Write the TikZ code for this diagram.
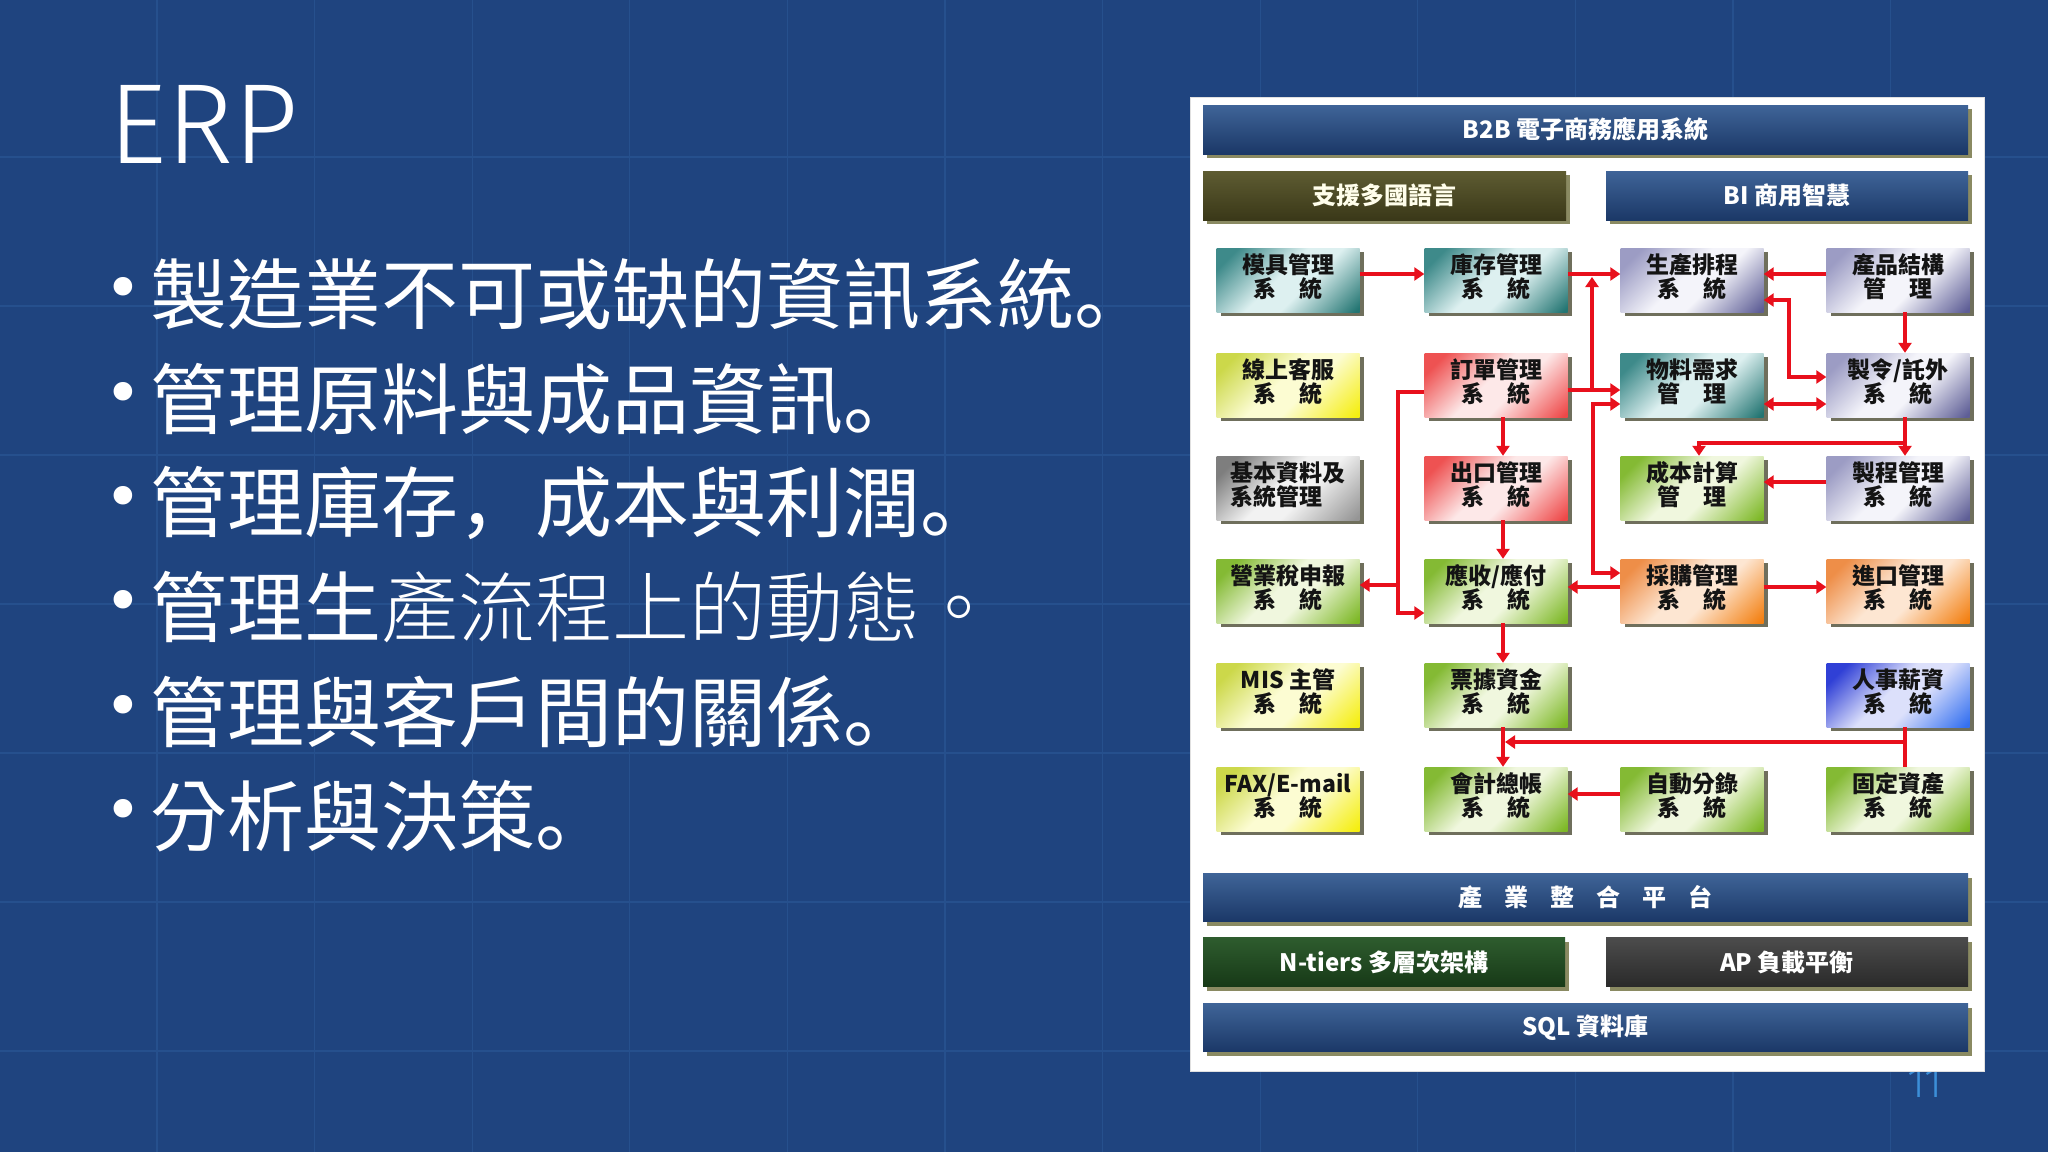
\documentclass[tikz,border=0pt]{standalone}
\usepackage{fontspec}
\usetikzlibrary{shadows,arrows.meta,calc}
\setmainfont{Noto Sans CJK TC}
\newfontfamily\tcf{Noto Sans CJK TC}
\newfontfamily\scf{Noto Sans CJK SC}
\newfontfamily\dvf{DejaVu Sans}
\IfFontExistsTF{Fira Sans Light}{\newfontfamily\thinf{Fira Sans Light}}{\newfontfamily\thinf{Lato}}
\IfFontExistsTF{Noto Sans CJK TC Light}{\newfontfamily\tclight{Noto Sans CJK TC Light}}{\newfontfamily\tclight{Noto Sans CJK TC}}

\newcommand{\bt}[2]{\raisebox{-17pt}[0pt][0pt]{\vbox{\baselineskip=24pt\lineskiplimit=-50pt\lineskip=0pt\halign{\hfil##\hfil\cr#1\cr#2\cr}}}}
\newcommand{\btl}[2]{\raisebox{-17pt}[0pt][0pt]{\vbox{\baselineskip=24pt\lineskiplimit=-50pt\lineskip=0pt\halign{##\hfil\cr#1\cr#2\cr}}}}

\definecolor{bg}{HTML}{1F447F}
\definecolor{gridc}{HTML}{26508D}
\definecolor{pgnum}{HTML}{3C8FD8}
\definecolor{redc}{HTML}{E8101C}
\definecolor{boxsh}{HTML}{6F6F5C}
\definecolor{barsh}{HTML}{8A8A62}
% box gradients
\definecolor{teA}{HTML}{3E8A8A}\definecolor{teB}{HTML}{DDF0F0}\definecolor{teC}{HTML}{237572}
\definecolor{laA}{HTML}{9C9CC4}\definecolor{laB}{HTML}{F4F4FA}\definecolor{laC}{HTML}{5E5E96}
\definecolor{yeA}{HTML}{CCD84A}\definecolor{yeB}{HTML}{FCFCD2}\definecolor{yeC}{HTML}{F5EE10}
\definecolor{piA}{HTML}{EE5252}\definecolor{piB}{HTML}{FDE8E8}\definecolor{piC}{HTML}{EE4848}
\definecolor{grA}{HTML}{7E7E7E}\definecolor{grB}{HTML}{F2F2F2}\definecolor{grC}{HTML}{959595}
\definecolor{gnA}{HTML}{84BA34}\definecolor{gnB}{HTML}{F0F7DE}\definecolor{gnC}{HTML}{7DB826}
\definecolor{orA}{HTML}{EE8E48}\definecolor{orB}{HTML}{FDE6D2}\definecolor{orC}{HTML}{F38012}
\definecolor{blA}{HTML}{3040D6}\definecolor{blB}{HTML}{DCE0FB}\definecolor{blC}{HTML}{3470F0}
% bar gradients
\definecolor{bbA}{HTML}{3F6498}\definecolor{bbB}{HTML}{5E83B2}\definecolor{bbC}{HTML}{1B3867}
\definecolor{olA}{HTML}{5E5C32}\definecolor{olB}{HTML}{7C7A52}\definecolor{olC}{HTML}{3A3818}
\definecolor{dgA}{HTML}{2E5C2E}\definecolor{dgB}{HTML}{426F42}\definecolor{dgC}{HTML}{173917}
\definecolor{agA}{HTML}{4C4C4C}\definecolor{agB}{HTML}{6C6C6C}\definecolor{agC}{HTML}{2A2A2A}

\pgfdeclarehorizontalshading{teS}{100bp}{color(0bp)=(teA); color(22bp)=(teA); color(46bp)=(teB); color(58bp)=(teB); color(84bp)=(teC); color(100bp)=(teC)}
\pgfdeclarehorizontalshading{laS}{100bp}{color(0bp)=(laA); color(22bp)=(laA); color(46bp)=(laB); color(58bp)=(laB); color(84bp)=(laC); color(100bp)=(laC)}
\pgfdeclarehorizontalshading{yeS}{100bp}{color(0bp)=(yeA); color(22bp)=(yeA); color(46bp)=(yeB); color(58bp)=(yeB); color(84bp)=(yeC); color(100bp)=(yeC)}
\pgfdeclarehorizontalshading{piS}{100bp}{color(0bp)=(piA); color(22bp)=(piA); color(46bp)=(piB); color(58bp)=(piB); color(84bp)=(piC); color(100bp)=(piC)}
\pgfdeclarehorizontalshading{grS}{100bp}{color(0bp)=(grA); color(22bp)=(grA); color(46bp)=(grB); color(58bp)=(grB); color(84bp)=(grC); color(100bp)=(grC)}
\pgfdeclarehorizontalshading{gnS}{100bp}{color(0bp)=(gnA); color(22bp)=(gnA); color(46bp)=(gnB); color(58bp)=(gnB); color(84bp)=(gnC); color(100bp)=(gnC)}
\pgfdeclarehorizontalshading{orS}{100bp}{color(0bp)=(orA); color(22bp)=(orA); color(46bp)=(orB); color(58bp)=(orB); color(84bp)=(orC); color(100bp)=(orC)}
\pgfdeclarehorizontalshading{blS}{100bp}{color(0bp)=(blA); color(22bp)=(blA); color(46bp)=(blB); color(58bp)=(blB); color(84bp)=(blC); color(100bp)=(blC)}

\begin{document}
\begin{tikzpicture}[x=1pt,y=-1pt,
  bx/.style={inner sep=0pt, minimum width=143pt, minimum height=64pt,
    text=black!92, font=\tcf\bfseries\fontsize{23}{23}\selectfont,
    drop shadow={shadow xshift=4pt, shadow yshift=-4pt, opacity=1, fill=boxsh}},
  teal box/.style={bx, shade, shading=teS, shading angle=-45},
  lav box/.style={bx, shade, shading=laS, shading angle=-45},
  yel box/.style={bx, shade, shading=yeS, shading angle=-45},
  pink box/.style={bx, shade, shading=piS, shading angle=-45},
  gray box/.style={bx, shade, shading=grS, shading angle=-45},
  grn box/.style={bx, shade, shading=gnS, shading angle=-45},
  org box/.style={bx, shade, shading=orS, shading angle=-45},
  blu box/.style={bx, shade, shading=blS, shading angle=-45},
  bar/.style={inner sep=0pt, minimum height=49pt, text=white,
    font=\tcf\bfseries\fontsize{24}{24}\selectfont,
    drop shadow={shadow xshift=4pt, shadow yshift=-4pt, opacity=1, fill=barsh}},
  blue bar/.style={bar, top color=bbA, middle color=bbB, bottom color=bbC},
  olive bar/.style={bar, top color=olA, middle color=olB, bottom color=olC, text=white!92!yellow},
  green bar/.style={bar, top color=dgA, middle color=dgB, bottom color=dgC},
  grey bar/.style={bar, top color=agA, middle color=agB, bottom color=agC},
  arr/.style={draw=redc, line width=4pt, -{Triangle[length=10pt,width=13pt]}},
  arrb/.style={draw=redc, line width=4pt, {Triangle[length=10pt,width=13pt]}-{Triangle[length=10pt,width=13pt]}},
  lnk/.style={draw=redc, line width=4pt},
  bline/.style={anchor=west, inner sep=0pt, text=white, font=\tcf\fontsize{77}{77}\selectfont},
  bdot/.style={inner sep=0pt, text=white, font=\dvf\fontsize{64}{64}\selectfont}
]
\useasboundingbox (0,0) rectangle (2048,1152);
\fill[bg] (0,0) rectangle (2048,1152);
\foreach \i in {0,...,12} \draw[gridc, line width=1.2pt] ({157+157.6*\i},0) -- ++(0,1152);
\foreach \j in {0,...,6} \draw[gridc, line width=1.2pt] (0,{157+149*\j}) -- ++(2048,0);

% title
\node[anchor=base west, inner sep=0pt, text=white, font=\thinf\fontsize{114}{114}\selectfont] (title) at (108,163) {ERP};

% bullets
\node[bdot] (d1) at (123,294) {•};
\node[bline] (l1) at (150,294) {製造業不可或缺的資訊系統{\scf 。}};
\node[bdot] (d2) at (123,399) {•};
\node[bline] (l2) at (150,399) {管理原料與成品資訊{\scf 。}};
\node[bdot] (d3) at (123,503) {•};
\node[bline] (l3) at (150,503) {管理庫存{\scf ，}成本與利潤{\scf 。}};
\node[bdot] (d4) at (123,607) {•};
\node[bline] (l4) at (150,607) {管理生{\tclight 產流程上的動態。}};
\node[bdot] (d5) at (123,712) {•};
\node[bline] (l5) at (150,712) {管理與客戶間的關係{\scf 。}};
\node[bdot] (d6) at (123,816) {•};
\node[bline] (l6) at (150,816) {分析與決策{\scf 。}};

% page number (partly under the panel)
\node[anchor=base, inner sep=0pt, text=pgnum, font=\thinf\fontsize{44}{44}\selectfont] (pg) at (1925,1097) {11};

% panel
\node[anchor=north west, inner sep=0pt, minimum width=794pt, minimum height=974pt, fill=white, draw=black!12] (panel) at (1190,97) {};

% top bars
\node[blue bar, minimum width=765pt] (b2b) at (1585.5,129.5) {B2B 電子商務應用系統};
\node[olive bar, minimum width=363pt] (lang) at (1384.5,195.5) {支援多國語言};
\node[blue bar, minimum width=362pt] (bi) at (1787,195.5) {BI 商用智慧};

% boxes
\node[teal box] (mj) at (1288,280) {\bt{模具管理}{系　統}};
\node[teal box] (kc) at (1496,280) {\bt{庫存管理}{系　統}};
\node[lav box]  (sc) at (1692,280) {\bt{生產排程}{系　統}};
\node[lav box]  (cp) at (1898,280) {\bt{產品結構}{管　理}};

\node[yel box]  (kf) at (1288,385) {\bt{線上客服}{系　統}};
\node[pink box] (dd) at (1496,385) {\bt{訂單管理}{系　統}};
\node[teal box] (wl) at (1692,385) {\bt{物料需求}{管　理}};
\node[lav box]  (zl) at (1898,385) {\bt{製令/託外}{系　統}};

\node[gray box] (jb) at (1288,488) {\btl{基本資料及}{系統管理}};
\node[pink box] (ck) at (1496,488) {\bt{出口管理}{系　統}};
\node[grn box]  (cb) at (1692,488) {\bt{成本計算}{管　理}};
\node[lav box]  (zc) at (1898,488) {\bt{製程管理}{系　統}};

\node[grn box]  (yy) at (1288,591) {\bt{營業稅申報}{系　統}};
\node[grn box]  (ys) at (1496,591) {\bt{應收/應付}{系　統}};
\node[org box]  (cg) at (1692,591) {\bt{採購管理}{系　統}};
\node[org box]  (jk) at (1898,591) {\bt{進口管理}{系　統}};

\node[yel box]  (mis) at (1288,695) {\bt{MIS 主管}{系　統}};
\node[grn box]  (pj) at (1496,695) {\bt{票據資金}{系　統}};
\node[blu box]  (rs) at (1898,695) {\bt{人事薪資}{系　統}};

\node[yel box]  (fax) at (1288,799) {\bt{FAX/E-mail}{系　統}};
\node[grn box]  (kj) at (1496,799) {\bt{會計總帳}{系　統}};
\node[grn box]  (zd) at (1692,799) {\bt{自動分錄}{系　統}};
\node[grn box]  (gd) at (1898,799) {\bt{固定資產}{系　統}};

% bottom bars
\node[blue bar, minimum width=765pt, minimum height=48pt] (cy) at (1585.5,897.5) {產\hspace{22pt}業\hspace{22pt}整\hspace{22pt}合\hspace{22pt}平\hspace{22pt}台};
\node[green bar, minimum width=362pt] (nt) at (1384,962) {N-tiers 多層次架構};
\node[grey bar, minimum width=362pt] (ap) at (1787,962) {AP 負載平衡};
\node[blue bar, minimum width=765pt, minimum height=48pt] (sql) at (1585.5,1027.5) {SQL 資料庫};

% junction coordinates
\coordinate (j1) at (1592,390);
\coordinate (j1t) at (1592,277);
\coordinate (j2) at (1905,443);
\coordinate (j3) at (1398,585);
\coordinate (j4) at (1905,742);
\coordinate (j4e) at (1505,742);

% connectors
\draw[arr] ([yshift=6pt]mj.east) -- ([yshift=6pt]kc.west);
\draw[arr] ([yshift=6pt]kc.east) -- ([yshift=6pt]sc.west);
\draw[arr] ([yshift=6pt]cp.west) -- ([yshift=6pt]sc.east);
\draw[arrb] ([yshift=-20pt]sc.east) -- ++(25,0) |- ([yshift=8pt]zl.west);
\draw[arr] ([xshift=7pt]cp.south) -- ([xshift=7pt]zl.north);
\draw[arr] ([yshift=-5pt]dd.east) -- ([yshift=-5pt]wl.west);
\draw[arr] (j1) -- (j1t);
\draw[arrb] ([yshift=-19pt]wl.west) -- ++(-27,0) |- ([yshift=18pt]cg.west);
\draw[arrb] ([yshift=-19pt]wl.east) -- ([yshift=-19pt]zl.west);
\draw[arr] ([xshift=7pt]zl.south) -- ([xshift=7pt]zc.north);
\draw[arr] (j2) -| ([xshift=7pt]cb.north);
\draw[arr] ([yshift=6pt]zc.west) -- ([yshift=6pt]cb.east);
\draw[arr] ([xshift=7pt]dd.south) -- ([xshift=7pt]ck.north);
\draw[arr] ([xshift=7pt]ck.south) -- ([xshift=7pt]ys.north);
\draw[arr] ([yshift=-7pt]dd.west) -- ++(-26,0) |- ([yshift=-22pt]ys.west);
\draw[arr] (j3) -- ([yshift=6pt]yy.east);
\draw[arr] ([yshift=4pt]cg.west) -- ([yshift=4pt]ys.east);
\draw[arr] ([yshift=4pt]cg.east) -- ([yshift=4pt]jk.west);
\draw[arr] ([xshift=7pt]ys.south) -- ([xshift=7pt]pj.north);
\draw[lnk] ([xshift=7pt]rs.south) -- ([xshift=7pt]gd.north);
\draw[arr] (j4) -- (j4e);
\draw[arr] ([xshift=7pt]pj.south) -- ([xshift=7pt]kj.north);
\draw[arr] ([yshift=5pt]zd.west) -- ([yshift=5pt]kj.east);
\end{tikzpicture}
\end{document}
